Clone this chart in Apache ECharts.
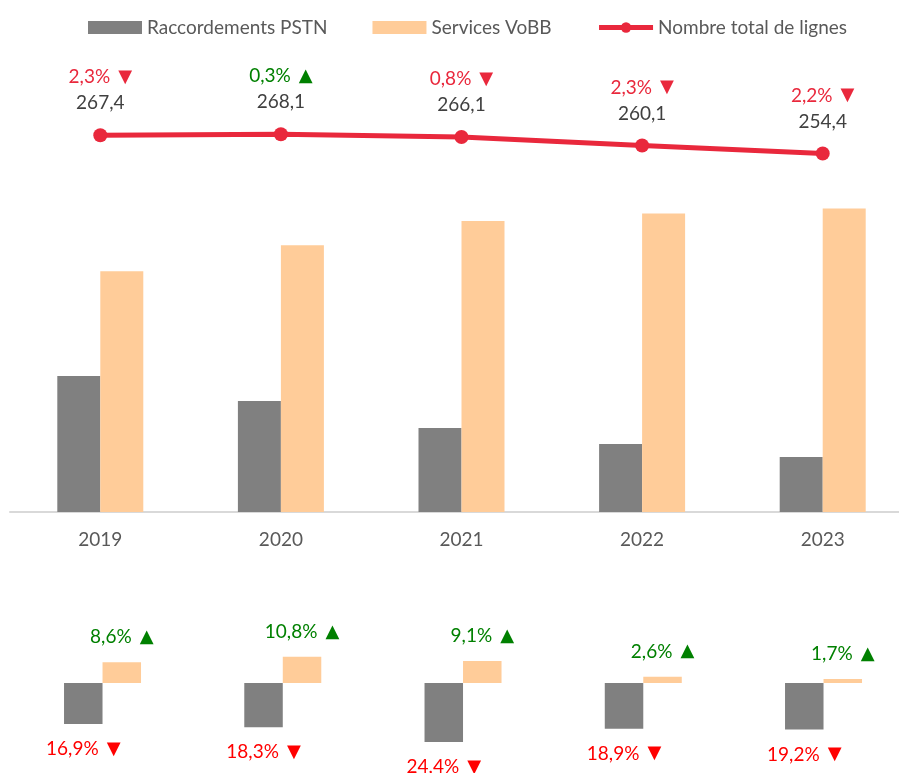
<!DOCTYPE html>
<html>
<head>
<meta charset="utf-8">
<script src="https://cdn.jsdelivr.net/npm/echarts@6/dist/echarts.min.js"></script>
<style>
html,body{margin:0;padding:0;background:#fff;}
#c{width:899px;height:773px;}
</style>
</head>
<body>
<div id="c"></div>
<script>
var years = ['2019', '2020', '2021', '2022', '2023'];
var pstn = [96.5, 78.8, 59.6, 48.3, 39.0];
var vobb = [170.9, 189.3, 206.5, 211.8, 215.4];
var total = [267.4, 268.1, 266.1, 260.1, 254.4];
var totalGrowth = [-2.3, 0.3, -0.8, -2.3, -2.2];
var pstnGrowth = [-16.9, -18.3, -24.4, -18.9, -19.2];
var vobbGrowth = [8.6, 10.8, 9.1, 2.6, 1.7];

var FONT = 'Lato';
var TRI = 'DejaVu Sans';
function fmt(v) { return Math.abs(v).toFixed(1).replace('.', ','); }
function pctRich(v) {
  var k = v < 0 ? 'dn' : 'up';
  return '{' + k + '|' + fmt(v) + '%}{' + k + 't|' + (v < 0 ? '\u25BC' : '\u25B2') + '}';
}
function richSet(dnColor, upColor) {
  return {
    dn: { color: dnColor, fontSize: 19, fontFamily: FONT, lineHeight: 26 },
    up: { color: upColor, fontSize: 19, fontFamily: FONT, lineHeight: 26 },
    dnt: { color: dnColor, fontSize: 18, fontFamily: TRI, lineHeight: 26, padding: [0, 0, 0, 8] },
    upt: { color: upColor, fontSize: 18, fontFamily: TRI, lineHeight: 26, padding: [0, 0, 0, 8] },
    v: { color: '#404040', fontSize: 19, fontFamily: FONT, lineHeight: 26 }
  };
}

var chart = echarts.init(document.getElementById('c'));
chart.setOption({
  animation: false,
  textStyle: { fontFamily: FONT },
  legend: {
    left: 83, top: 13,
    itemWidth: 54, itemHeight: 13, itemGap: 45,
    textStyle: { color: '#595959', fontSize: 19, fontFamily: FONT },
    data: [
      { name: 'Raccordements PSTN', icon: 'rect' },
      { name: 'Services VoBB', icon: 'rect' },
      { name: 'Nombre total de lignes', lineStyle: { width: 5 } }
    ]
  },
  grid: [
    { left: 10, width: 903, top: 89.3, height: 422.7, outerBoundsMode: 'none', containLabel: false },
    { left: 12.4, width: 901.25, top: 610.4, height: 145.2, outerBoundsMode: 'none', containLabel: false }
  ],
  xAxis: [
    {
      type: 'category', gridIndex: 0, data: years,
      axisLine: { lineStyle: { color: '#D9D9D9', width: 2 } },
      axisTick: { show: false },
      axisLabel: { color: '#595959', fontSize: 19, margin: 18, fontFamily: FONT }
    },
    { type: 'category', gridIndex: 1, data: years, show: false }
  ],
  yAxis: [
    { type: 'value', gridIndex: 0, min: 0, max: 300, show: false, splitLine: { show: false } },
    { type: 'value', gridIndex: 1, min: -30, max: 30, show: false, splitLine: { show: false } }
  ],
  series: [
    {
      name: 'Raccordements PSTN', type: 'bar', xAxisIndex: 0, yAxisIndex: 0,
      data: pstn, barWidth: 43, barGap: '0%',
      itemStyle: { color: '#808080' }
    },
    {
      name: 'Services VoBB', type: 'bar', xAxisIndex: 0, yAxisIndex: 0,
      data: vobb, barWidth: 43, barGap: '0%',
      itemStyle: { color: '#FFCC99' }
    },
    {
      name: 'Nombre total de lignes', type: 'line', xAxisIndex: 0, yAxisIndex: 0,
      data: total, symbol: 'circle', symbolSize: 14,
      lineStyle: { color: '#E9283C', width: 5 },
      itemStyle: { color: '#E9283C' },
      z: 5,
      label: {
        show: true, position: 'top', distance: 12,
        formatter: function (p) {
          return pctRich(totalGrowth[p.dataIndex]) + '\n{v|' + fmt(p.value) + '}';
        },
        rich: richSet('#E9283C', '#008000')
      }
    },
    {
      name: 'PSTN growth', type: 'bar', xAxisIndex: 1, yAxisIndex: 1,
      data: pstnGrowth, barWidth: 38.5, barGap: '0%',
      itemStyle: { color: '#808080' },
      label: {
        show: true, position: 'bottom', distance: 12,
        formatter: function (p) { return pctRich(p.value); },
        rich: richSet('#FF0000', '#008000')
      }
    },
    {
      name: 'VoBB growth', type: 'bar', xAxisIndex: 1, yAxisIndex: 1,
      data: vobbGrowth, barWidth: 38.5, barGap: '0%',
      itemStyle: { color: '#FFCC99' },
      label: {
        show: true, position: 'top', distance: 12,
        formatter: function (p) { return pctRich(p.value); },
        rich: richSet('#FF0000', '#008000')
      }
    }
  ]
});
</script>
</body>
</html>
